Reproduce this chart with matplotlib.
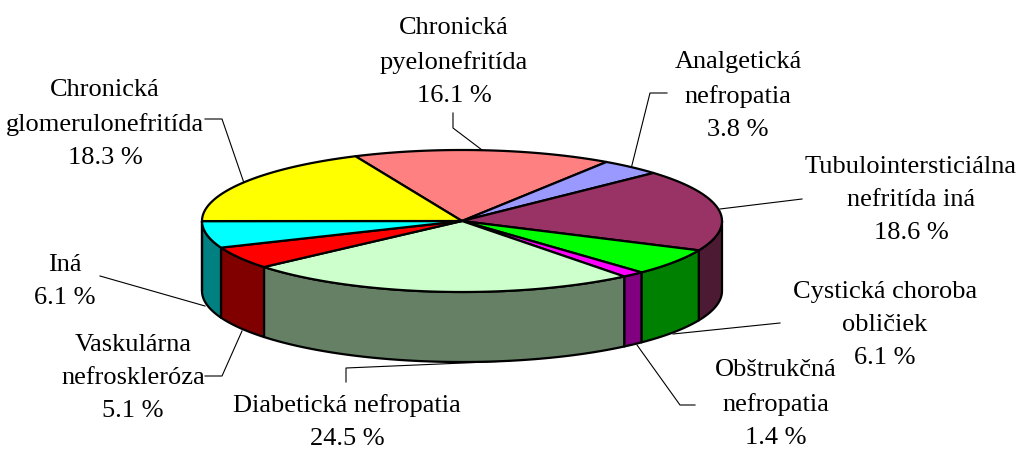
import numpy as np
from matplotlib import pyplot as plt

plt.rcParams['font.family'] = ['Liberation Serif', 'DejaVu Serif']

# slices clockwise, starting with pyelonefritida
names = ['Chronická\npyelonefritída', 'Analgetická\nnefropatia', 'Tubulointersticiálna\nnefritída iná',
         'Cystická choroba\nobličiek', 'Obštrukčná\nnefropatia', 'Diabetická nefropatia',
         'Vaskulárna\nnefroskleróza', 'Iná', 'Chronická\nglomerulonefritída']
values = [16.1, 3.8, 18.6, 6.1, 1.4, 24.5, 5.1, 6.1, 18.3]
top_colors = ['#FF8080', '#9999FF', '#993366', '#00FF00', '#FF00FF', '#CCFFCC', '#FF0000', '#00FFFF', '#FFFF00']
side_colors = ['#804040', '#4D4D80', '#4D1A33', '#008000', '#800080', '#668066', '#800000', '#008080', '#808000']

# label anchor (centre x, top y) and leader line in pixels
label_pos = [(454, 17), (738, 51), (911, 156), (885, 281), (776, 359), (347, 394), (133, 334), (65, 254), (105, 79)]
leaders = [
    [(453, 113), (453, 128), (486, 153)],
    [(667, 93), (650, 93), (631, 169)],
    [(802, 199), (720, 209)],
    [(780, 323), (673, 334)],
    [(695, 405), (680, 405), (637, 345)],
    [(346, 382), (346, 368), (510, 361)],
    [(205, 376), (222, 376), (242, 331)],
    [(100, 276), (205, 306)],
    [(205, 119), (222, 119), (244, 183)],
]

cx, cy = 462, 221
rx, ry = 260, 71
depth = 70
start = 114.2

fig = plt.figure(figsize=(10.2, 4.5), dpi=100)
ax = fig.add_axes([0, 0, 1, 1])
ax.set_xlim(0, 1020)
ax.set_ylim(450, 0)
ax.axis('off')

edges = start - np.cumsum([0] + values) * 3.6


def rim(a0, a1, dy=0):
    t = np.radians(np.linspace(a0, a1, 80))
    return cx + rx * np.cos(t), cy - ry * np.sin(t) + dy


# leader lines under the pie
for pts in leaders:
    xs, ys = zip(*pts)
    ax.plot(xs, ys, color='black', lw=0.8, zorder=1)

# side walls, only the front half (angles below 0) is visible
for i in range(len(values)):
    a0 = min(edges[i], 0)
    a1 = max(edges[i + 1], -180)
    if a0 <= a1:
        continue
    x, y = rim(a0, a1)
    xb, yb = rim(a1, a0, depth)
    ax.fill(np.r_[x, xb], np.r_[y, yb], facecolor=side_colors[i], edgecolor='black', lw=1.6, joinstyle='round', zorder=2)

# top faces
for i in range(len(values)):
    x, y = rim(edges[i], edges[i + 1])
    ax.fill(np.r_[cx, x], np.r_[cy, y], facecolor=top_colors[i], edgecolor='black', lw=1.6, joinstyle='round', zorder=3)

for name, val, (lx, ly) in zip(names, values, label_pos):
    ax.text(lx, ly, '%s\n%.1f %%' % (name, val), ha='center', va='top', fontsize=19, color='black',
            linespacing=1.65, zorder=4)

plt.savefig('out.png', dpi=100)
